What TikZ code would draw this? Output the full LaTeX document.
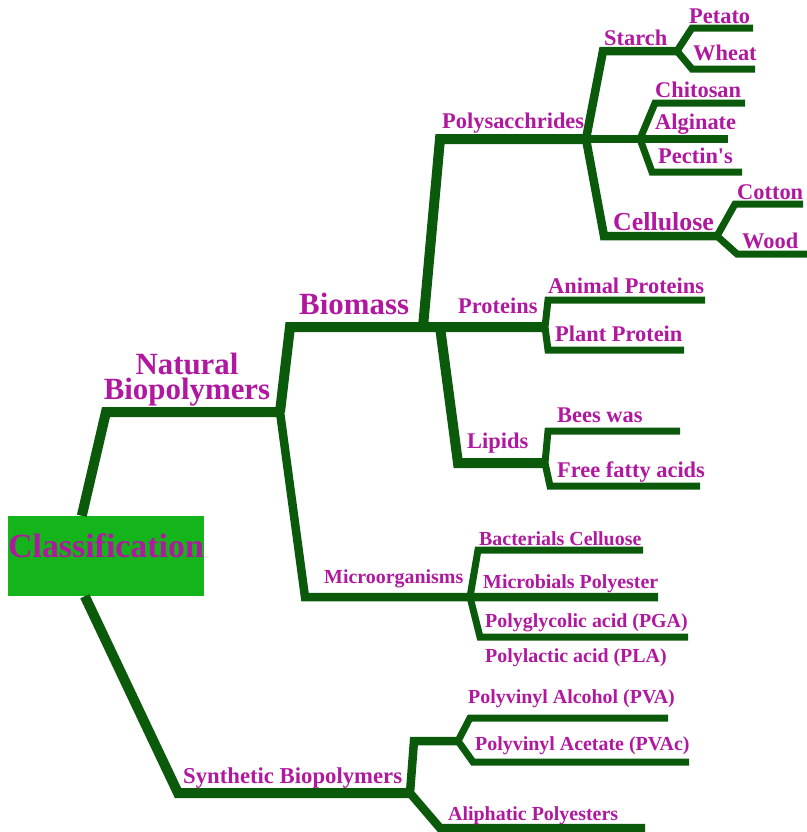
\documentclass[tikz,border=0pt]{standalone}
\usepackage{fontspec}
\setmainfont{Liberation Serif}
\definecolor{twiggreen}{HTML}{0B5A0B}
\definecolor{labelpink}{HTML}{B0199F}
\definecolor{boxgreen}{HTML}{13B51B}
\begin{document}
\begin{tikzpicture}[
  x=1bp, y=-1bp,
  trunk/.style={draw=twiggreen, line width=10bp},
  branch/.style={draw=twiggreen, line width=8.5bp},
  twig/.style={draw=twiggreen, line width=7bp},
  lbl/.style={text=labelpink, inner sep=0pt, anchor=base west},
  big/.style={lbl, font=\fontsize{31}{25}\selectfont\bfseries},
  mid/.style={lbl, font=\fontsize{22.5}{26}\selectfont\bfseries},
  small/.style={lbl, font=\fontsize{20}{23}\selectfont\bfseries},
  rootbox/.style={fill=boxgreen, minimum width=196bp, minimum height=80bp,
    inner sep=0pt, text depth=20bp, text=labelpink,
    font=\fontsize{34}{40}\selectfont\bfseries}
]
\useasboundingbox (0,0) rectangle (807,832);

\node[rootbox] (root) at (106,556) {Classification};

\coordinate (nat1) at (106,412);
\coordinate (nat2) at (280,412);
\coordinate (bio1) at (290,327);
\coordinate (bio2) at (545,327);
\coordinate (poly0) at (423,327);
\coordinate (poly1) at (440,139);
\coordinate (poly2) at (586,139);
\coordinate (lip0) at (440,327);
\coordinate (lip1) at (458,463);
\coordinate (lip2) at (545,463);
\coordinate (mic1) at (305,597);
\coordinate (mic2) at (470,597);
\coordinate (micE) at (658,597);
\coordinate (syn1) at (178,793);
\coordinate (syn2) at (410,793);
\coordinate (syn3) at (414,741);
\coordinate (syn4) at (458,741);

\coordinate (st1) at (603,51);
\coordinate (st2) at (677,51);
\coordinate (pet0) at (692,28);   \coordinate (petE) at (753,28);
\coordinate (wh0) at (692,69);    \coordinate (whE) at (755,69);
\coordinate (alg1) at (640,139);  \coordinate (alg2) at (728,139);
\coordinate (chi0) at (655,103);  \coordinate (chiE) at (745,103);
\coordinate (pec0) at (652,172);  \coordinate (pecE) at (742,172);
\coordinate (cel1) at (604,236);  \coordinate (cel2) at (717,236);
\coordinate (cot0) at (735,204);  \coordinate (cotE) at (803,204);
\coordinate (wood0) at (737,254); \coordinate (woodE) at (807,254);
\coordinate (anim0) at (548,300); \coordinate (animE) at (705,300);
\coordinate (plant0) at (548,350);\coordinate (plantE) at (684,350);
\coordinate (bees0) at (548,431); \coordinate (beesE) at (680,431);
\coordinate (ffa0) at (550,486);  \coordinate (ffaE) at (700,486);
\coordinate (bac0) at (478,550);  \coordinate (bacE) at (643,550);
\coordinate (pga0) at (480,637);  \coordinate (pgaE) at (688,637);
\coordinate (pva0) at (470,718);  \coordinate (pvaE) at (668,718);
\coordinate (pvac0) at (473,762); \coordinate (pvacE) at (689,762);
\coordinate (ali0) at (440,828);  \coordinate (aliE) at (645,828);

\draw[trunk] ([xshift=74bp]root.north west) -- (nat1) -- (nat2);
\draw[trunk] (nat2) -- (bio1) -- (bio2);
\draw[branch] (nat2) -- (mic1) -- (micE);
\draw[trunk] (poly0) -- (poly1) -- (poly2);
\draw[trunk] (lip0) -- (lip1) -- (lip2);
\draw[branch] (poly2) -- (st1) -- (st2);
\draw[branch] (poly2) -- (alg2);
\draw[branch] (poly2) -- (cel1) -- (cel2);
\draw[twig] (petE) -- (pet0) -- (st2) -- (wh0) -- (whE);
\draw[twig] (chiE) -- (chi0) -- (alg1) -- (pec0) -- (pecE);
\draw[twig] (cotE) -- (cot0) -- (cel2) -- (wood0) -- (woodE);
\draw[twig] (animE) -- (anim0) -- (bio2) -- (plant0) -- (plantE);
\draw[twig] (beesE) -- (bees0) -- (lip2) -- (ffa0) -- (ffaE);
\draw[twig] (bacE) -- (bac0) -- (mic2) -- (pga0) -- (pgaE);
\draw[trunk] ([xshift=77bp]root.south west) -- (syn1) -- (syn2);
\draw[branch] (syn4) -- (syn3) -- (syn2) -- (ali0) -- (aliE);
\draw[twig] (pvaE) -- (pva0) -- (syn4) -- (pvac0) -- (pvacE);

\node[big, anchor=north, align=center] (natural) at (187,353) {Natural\\Biopolymers};
\node[big] (biomass) at (299,314) {Biomass};
\node[mid] (polysac) at (442,128) {Polysacchrides};
\node[mid] (starch) at (604,45) {Starch};
\node[mid] (petato) at (689,23) {Petato};
\node[mid] (wheat) at (693,60) {Wheat};
\node[mid] (chitosan) at (655,97) {Chitosan};
\node[mid] (alginate) at (655,129) {Alginate};
\node[mid] (pectin) at (658,163) {Pectin\textquotesingle s};
\node[mid] (cotton) at (737,199) {Cotton};
\node[mid, font=\fontsize{26}{30}\selectfont\bfseries] (cellulose) at (613,230) {Cellulose};
\node[mid] (wood) at (742,248) {Wood};
\node[mid] (proteins) at (458,313) {Proteins};
\node[mid] (animal) at (548,293) {Animal Proteins};
\node[mid] (plant) at (555,341) {Plant Protein};
\node[mid] (bees) at (557,422) {Bees was};
\node[mid] (lipids) at (467,448) {Lipids};
\node[mid] (fatty) at (557,477) {Free fatty acids};
\node[small] (micro) at (324,583) {Microorganisms};
\node[small] (bacterial) at (479,545) {Bacterials Celluose};
\node[small] (microbial) at (483,588) {Microbials Polyester};
\node[small] (pga) at (485,627) {Polyglycolic acid (PGA)};
\node[small] (pla) at (485,662) {Polylactic acid (PLA)};
\node[mid, font=\fontsize{22.8}{26}\selectfont\bfseries] (synthetic) at (183,783) {Synthetic Biopolymers};
\node[small] (pva) at (468,703) {Polyvinyl Alcohol (PVA)};
\node[small] (pvac) at (475,750) {Polyvinyl Acetate (PVAc)};
\node[small] (aliphatic) at (448,820) {Aliphatic Polyesters};
\end{tikzpicture}
\end{document}
